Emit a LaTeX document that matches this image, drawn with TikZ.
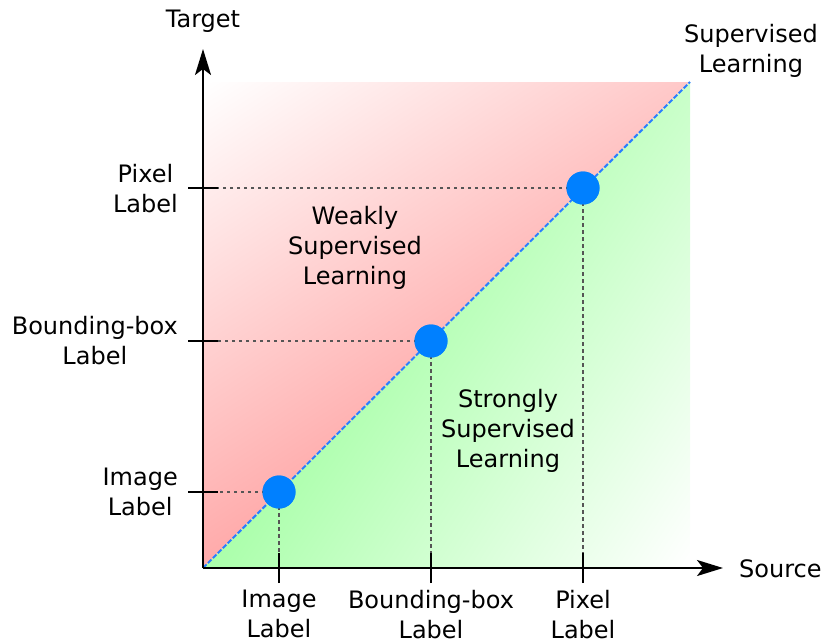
\documentclass[tikz,border=0pt]{standalone}
\usepackage{fontspec}
\setmainfont{DejaVu Sans}
\usetikzlibrary{arrows.meta}
\definecolor{ptblue}{HTML}{0080FF}
\definecolor{dashblue}{HTML}{2A7FFF}
\definecolor{guidegray}{HTML}{555555}
\begin{document}
\begin{tikzpicture}[x=1pt,y=-1pt,
  lbl/.style={font=\fontsize{24}{30}\selectfont, align=center, inner sep=0pt},
  axisline/.style={line width=2pt, -{Stealth[length=26pt,width=16pt,inset=6pt]}},
  tickline/.style={line width=1.8pt},
  guide/.style={line width=1.6pt, guidegray, dash pattern=on 3.5pt off 3.5pt},
  diag/.style={line width=2pt, dashblue, dash pattern=on 5pt off 2pt},
  dot/.style={circle, fill=ptblue, minimum size=33pt, inner sep=0pt}]
\useasboundingbox (0,0) rectangle (824,643);
\coordinate (O) at (203,568);
\coordinate (TR) at (690,82);
\coordinate (TL) at (203,82);
\coordinate (BR) at (690,568);
\coordinate (ytop) at (203,49);
\coordinate (xend) at (723,568);
% shaded regions
\begin{scope}
  \clip (O) -- (TL) -- (TR) -- cycle;
  \shade[top color=white, bottom color=red!55!white, shading angle=33]
    (109.75,-11.75) rectangle (783.25,661.75);
\end{scope}
\begin{scope}
  \clip (O) -- (BR) -- (TR) -- cycle;
  \shade[top color=white, bottom color=green!55!white, shading angle=-123]
    (109.75,-11.75) rectangle (783.25,661.75);
\end{scope}
% tick coordinates
\coordinate (ty1) at (203,492);
\coordinate (ty2) at (203,341);
\coordinate (ty3) at (203,188);
\coordinate (tx1) at (279,568);
\coordinate (tx2) at (431,568);
\coordinate (tx3) at (583,568);
% points
\node[dot] (d1) at (279,492) {};
\node[dot] (d2) at (431,341) {};
\node[dot] (d3) at (583,188) {};
% guides
\draw[guide] (d1.center) -- (ty1);
\draw[guide] (d2.center) -- (ty2);
\draw[guide] (d3.center) -- (ty3);
\draw[guide] (d1.center) -- (tx1);
\draw[guide] (d2.center) -- (tx2);
\draw[guide] (d3.center) -- (tx3);
% diagonal
\draw[diag] (O) -- (TR);
% dots on top
\fill[ptblue] (d1) circle (16.5pt);
\fill[ptblue] (d2) circle (16.5pt);
\fill[ptblue] (d3) circle (16.5pt);
% axes
\draw[axisline] (O) -- (ytop);
\draw[axisline] (O) -- (xend);
% ticks
\foreach \t in {ty1,ty2,ty3}
  \draw[tickline] ([xshift=-15pt]\t) -- ([xshift=15pt]\t);
\foreach \t in {tx1,tx2,tx3}
  \draw[tickline] ([yshift=-15pt]\t) -- ([yshift=15pt]\t);
% labels
\node[lbl] (ylab) at (203,21) {Target};
\node[lbl, anchor=west] (xlab) at (739,568.5) {Source};
\node[lbl] (sup) at (751,51) {Supervised\\Learning};
\node[lbl] (weak) at (355,248) {Weakly\\Supervised\\Learning};
\node[lbl] (strong) at (508,431) {Strongly\\Supervised\\Learning};
\node[lbl, anchor=east] (yl1) at (178,492) {Image\\Label};
\node[lbl, anchor=east] (yl2) at (178,341) {Bounding-box\\Label};
\node[lbl, anchor=east] (yl3) at (178,189) {Pixel\\Label};
\node[lbl, anchor=north] (xl1) at (279,590) {Image\\Label};
\node[lbl, anchor=north] (xl2) at (431,590) {Bounding-box\\Label};
\node[lbl, anchor=north] (xl3) at (583,590) {Pixel\\Label};
\end{tikzpicture}
\end{document}
